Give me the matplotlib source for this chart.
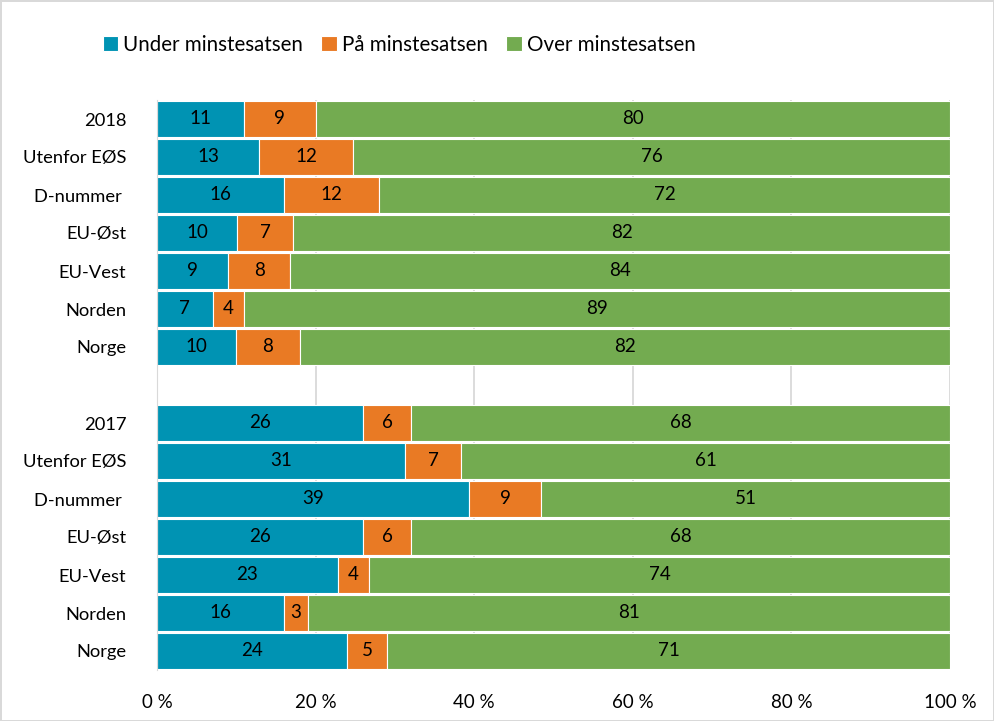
import numpy as np
import matplotlib.pyplot as plt

plt.rcParams['font.family'] = ['Lato', 'DejaVu Sans']

# rows top to bottom
labels = ['2018', 'Utenfor EØS', 'D-nummer ', 'EU-Øst', 'EU-Vest', 'Norden', 'Norge',
          '2017', 'Utenfor EØS', 'D-nummer ', 'EU-Øst', 'EU-Vest', 'Norden', 'Norge']
under = [11, 13, 16, 10, 9, 7, 10, 26, 31, 39, 26, 23, 16, 24]
paa = [9, 12, 12, 7, 8, 4, 8, 6, 7, 9, 6, 4, 3, 5]
over = [80, 76, 72, 82, 84, 89, 82, 68, 61, 51, 68, 74, 81, 71]

series = ['Under minstesatsen', 'På minstesatsen', 'Over minstesatsen']
colors = ['#0093B3', '#E97A24', '#73AB50']

vals = np.array([under, paa, over], dtype=float)
share = vals / vals.sum(axis=0) * 100  # 100 % stacked

ypos = np.array(list(range(7)) + list(range(8, 15)))

fig = plt.figure(figsize=(9.94, 7.21), dpi=100)
fig.patch.set_edgecolor('#D9D9D9')
fig.patch.set_linewidth(2)
ax = fig.add_axes([157 / 994, 1 - 670 / 721, (950 - 157) / 994, (670 - 100) / 721])

left = np.zeros(len(labels))
for i in range(3):
    ax.barh(ypos, share[i], left=left, height=0.93, color=colors[i],
            edgecolor='white', linewidth=0.8, label=series[i], zorder=2)
    for y, l, w, v in zip(ypos, left, share[i], vals[i]):
        ax.text(l + w / 2, y, f'{int(v)}', ha='center', va='center',
                fontsize=13.5, color='black', zorder=3)
    left += share[i]

ax.set_xlim(0, 100)
ax.set_ylim(14.5, -0.5)
ax.set_yticks(ypos)
ax.set_yticklabels(labels, fontsize=13.2)
ax.set_xticks(np.arange(0, 101, 20))
ax.set_xticklabels([f'{t} %' for t in range(0, 101, 20)], fontsize=13.5)
ax.tick_params(length=0)
ax.tick_params(axis='y', pad=22)
ax.tick_params(axis='x', pad=17)
ax.grid(axis='x', color='#D9D9D9', linewidth=1.3, zorder=0)
for s in ['top', 'right', 'bottom']:
    ax.spines[s].set_visible(False)
ax.spines['left'].set_color('#D9D9D9')

fig.legend(loc='upper left', bbox_to_anchor=(84 / 994, 1 - 16 / 721), ncol=3,
           frameon=False, fontsize=14.8, handlelength=0.75, handleheight=0.75,
           handletextpad=0.25, columnspacing=0.9)

fig.savefig('out.png', dpi=100)
